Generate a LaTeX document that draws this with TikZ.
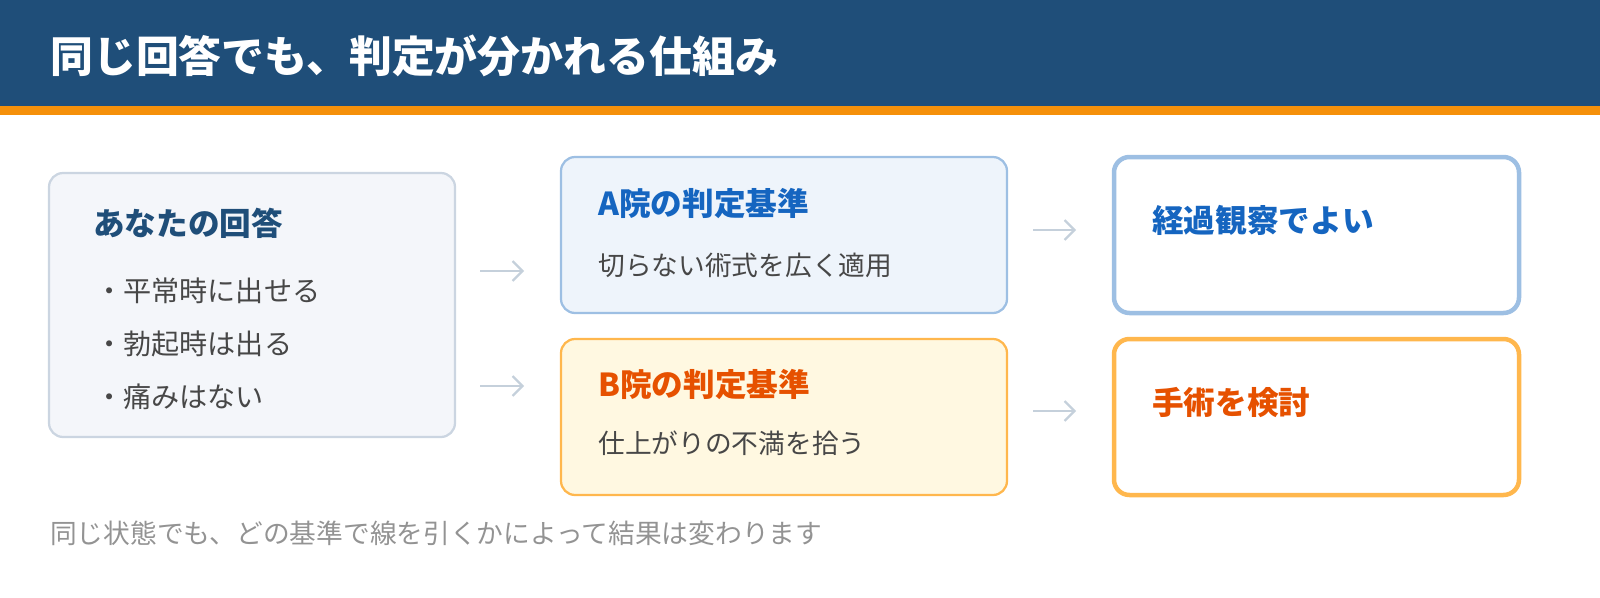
\documentclass[tikz,border=0pt]{standalone}
\usepackage{fontspec}
\setmainfont{Noto Sans CJK JP}
\usetikzlibrary{arrows.meta, positioning}
\definecolor{headblue}{HTML}{1F4E79}
\definecolor{headorange}{HTML}{F5900A}
\definecolor{ansfill}{HTML}{F4F6FA}
\definecolor{ansline}{HTML}{CBD5E1}
\definecolor{afill}{HTML}{EEF4FB}
\definecolor{aline}{HTML}{9DBFE3}
\definecolor{atext}{HTML}{1565C0}
\definecolor{bfill}{HTML}{FFF8E1}
\definecolor{bline}{HTML}{FFB74D}
\definecolor{btext}{HTML}{E65100}
\definecolor{bodytext}{HTML}{333333}
\definecolor{arrowgray}{HTML}{C5D0DB}
\tikzset{>=latex}
\tikzset{
  box/.style={rounded corners=10, line width=1.6},
  result/.style={rounded corners=11, line width=3.2, fill=white},
  boxtitle/.style={anchor=west, inner sep=0, font=\fontsize{22.5}{26}\selectfont\bfseries},
  boxtext/.style={anchor=west, inner sep=0, font=\fontsize{19}{22}\selectfont, text=bodytext!90},
  flow/.style={draw=arrowgray, line width=1.6, -{Straight Barb[length=7pt,width=14pt]}}
}
\begin{document}
\begin{tikzpicture}[x=0.025cm, y=-0.025cm]
\useasboundingbox (0,0) rectangle (1600,598);

% header
\fill[headblue] (0,0) rectangle (1600,106);
\fill[headorange] (0,106) rectangle (1600,115);
\node[anchor=west, inner sep=0, text=white, font=\fontsize{30.5}{34}\selectfont\bfseries] (title) at (50,56) {同じ回答でも、判定が分かれる仕組み};

% answer box
\draw[box, fill=ansfill, draw=ansline] (49,173) rectangle (455,437);
\node[boxtitle, text=headblue] (answer) at (93,223) {あなたの回答};
\node[boxtext, font=\fontsize{20}{24}\selectfont] (ans1) at (95,291) {・平常時に出せる};
\node[boxtext, font=\fontsize{20}{24}\selectfont] (ans2) at (95,344) {・勃起時は出る};
\node[boxtext, font=\fontsize{20}{24}\selectfont] (ans3) at (95,397) {・痛みはない};

% criteria boxes
\draw[box, fill=afill, draw=aline] (561,157) rectangle (1007,313);
\node[boxtitle, text=atext] (crita) at (598,204) {A院の判定基準};
\node[boxtext] (subA) at (598,265) {切らない術式を広く適用};

\draw[box, fill=bfill, draw=bline] (561,339) rectangle (1007,495);
\node[boxtitle, text=btext] (critb) at (598,385) {B院の判定基準};
\node[boxtext] (subB) at (598,443) {仕上がりの不満を拾う};

% results
\draw[result, draw=aline] (1114,157) rectangle (1519,313);
\node[boxtitle, text=atext] (resa) at (1152,220) {経過観察でよい};
\draw[result, draw=bline] (1114,339) rectangle (1519,495);
\node[boxtitle, text=btext] (resb) at (1152,403) {手術を検討};

% arrows
\coordinate (a1s) at (480,271); \coordinate (a1e) at (524,271);
\coordinate (a2s) at (480,386); \coordinate (a2e) at (524,386);
\coordinate (a3s) at (1033,230); \coordinate (a3e) at (1076,230);
\coordinate (a4s) at (1033,411); \coordinate (a4e) at (1076,411);
\foreach \s/\e in {a1s/a1e, a2s/a2e, a3s/a3e, a4s/a4e}
  \draw[flow] (\s) -- (\e);

% footer
\node[anchor=west, inner sep=0, text=gray!85, font=\fontsize{19}{22}\selectfont] (note) at (50,533) {同じ状態でも、どの基準で線を引くかによって結果は変わります};
\end{tikzpicture}
\end{document}
